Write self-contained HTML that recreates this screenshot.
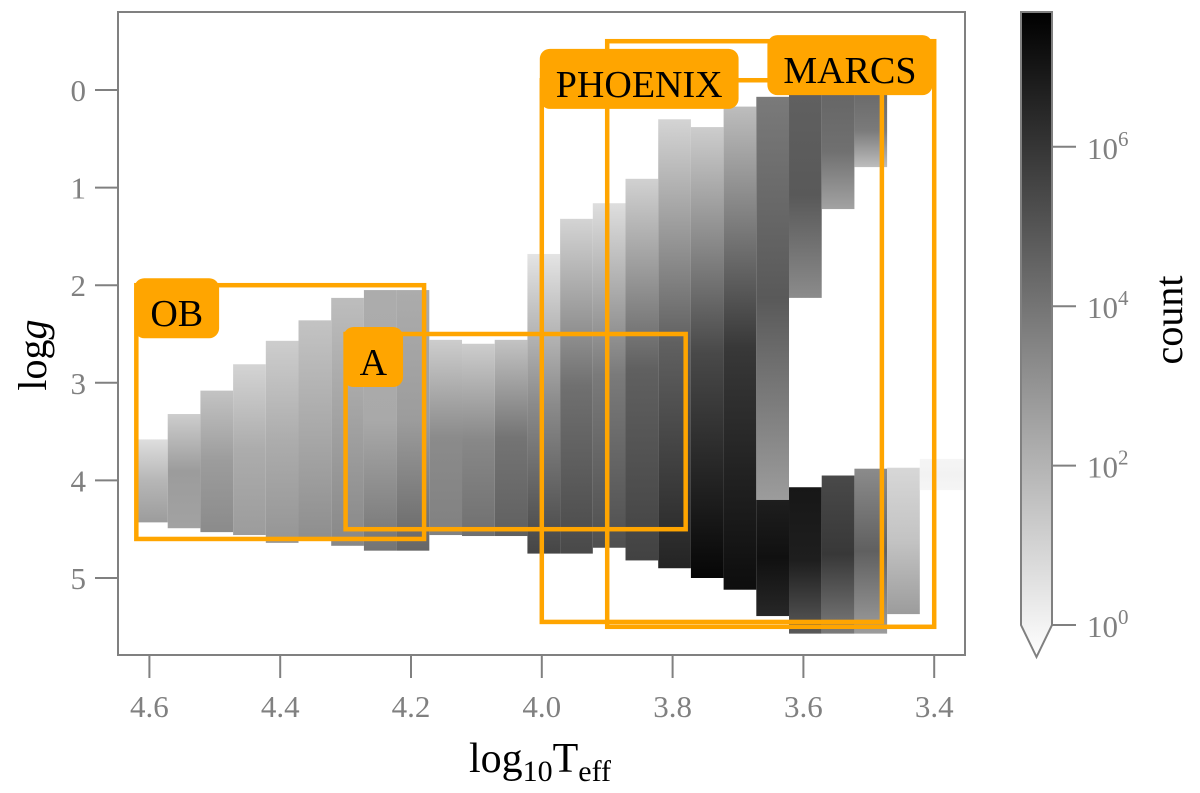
<!DOCTYPE html>
<html><head><meta charset="utf-8"><style>
html,body{margin:0;padding:0;background:#fff;}
svg text{font-family:"Liberation Serif",serif;}
</style></head><body>
<svg id="chart" width="1200" height="788" viewBox="0 0 1200 788" xmlns="http://www.w3.org/2000/svg">
<defs id="defs"></defs>
<g id="cells"></g>
<g id="boxes"></g>
<rect x="118" y="12" width="847" height="643" fill="none" stroke="#808080" stroke-width="2"/>
<g id="axes"></g>
<g id="cbar"></g>
<text transform="translate(46,355) rotate(-90)" text-anchor="middle" font-size="40">log<tspan font-style="italic">g</tspan></text>
<text x="540" y="772" text-anchor="middle" font-size="42">log<tspan font-size="30" dy="9">10</tspan><tspan dy="-9">T</tspan><tspan font-size="30" dy="9">eff</tspan></text>
<text transform="translate(1182,320) rotate(-90)" text-anchor="middle" font-size="40">count</text>
</svg>
<script>
// heatmap segments: column centre (log Teff), logg top, logg bottom, log10 count at top / middle / bottom
const segT   = [4.597,4.547,4.497,4.447,4.397,4.347,4.297,4.247,4.197,4.147,4.097,4.047,3.997,3.947,3.897,3.847,3.797,3.747,3.697,3.647,3.647,3.597,3.597,3.547,3.547,3.497,3.497,3.447,3.397,3.347];
const segTop = [3.58,3.32,3.08,2.81,2.57,2.36,2.13,2.05,2.05,2.56,2.60,2.56,1.68,1.32,1.16,0.91,0.30,0.38,0.17,0.07,4.20,0.03,4.07,0.03,3.95,0.03,3.88,3.87,3.78,3.78];
const segBot = [4.43,4.49,4.53,4.56,4.64,4.60,4.67,4.72,4.72,4.56,4.57,4.57,4.75,4.75,4.69,4.82,4.90,5.00,5.12,4.20,5.39,2.13,5.57,1.22,5.57,0.79,5.57,5.37,4.10,4.10];
const lcTop  = [1.0,1.5,1.8,1.3,1.5,1.8,2.0,2.5,2.5,1.5,1.5,1.8,0.8,1.3,1.0,1.4,1.3,1.5,2.0,4.0,6.8,4.8,7.0,4.6,5.5,4.5,3.5,1.2,0.3,0.3];
const lcMid  = [2.2,3.0,3.0,2.5,2.5,2.6,2.8,2.6,3.0,3.5,3.6,4.2,3.5,4.3,4.0,4.8,4.8,5.5,6.0,5.0,7.2,5.0,6.8,4.3,6.0,4.0,4.8,1.8,0.4,0.4];
const lcBot  = [3.0,2.8,3.5,3.0,3.2,3.4,3.6,4.2,4.6,3.8,4.3,4.8,5.6,5.5,5.3,5.7,6.6,7.5,7.3,3.0,6.5,3.5,5.0,2.8,4.0,2.0,3.0,3.0,0.3,0.3];
const binW = 0.05;
// model grid boxes
const boxNames = ["OB","A","PHOENIX","MARCS"];
const boxTmax  = [4.62,4.30,4.00,3.90];
const boxTmin  = [4.18,3.78,3.48,3.40];
const boxGmin  = [2.0,2.5,-0.1,-0.5];
const boxGmax  = [4.6,4.5,5.45,5.5];
// label anchors (data coordinates)
const labelT = [4.62,4.30,4.00,3.652];
const labelG = [2.0,2.5,-0.35,-0.49];
const xTicks = [4.6,4.4,4.2,4.0,3.8,3.6,3.4];
const yTicks = [0,1,2,3,4,5];
const cbTicks = [0,2,4,6];
const lcMax = 7.69;

const NS="http://www.w3.org/2000/svg";
function X(v){return 149.4+(4.6-v)*654;}
function Y(g){return 90+g*97.6;}
function CB(l){return 625-l*79.7;}
function gray(l){const c=Math.max(0,Math.min(255,Math.round(255*(1-l/lcMax))));return `rgb(${c},${c},${c})`;}
function mk(tag,attrs,parent){const e=document.createElementNS(NS,tag);for(const k in attrs)e.setAttribute(k,attrs[k]);parent.appendChild(e);return e;}

const defs=document.getElementById('defs');
const cells=document.getElementById('cells');
for(let i=0;i<segT.length;i++){
  const gid='g'+i;
  const lg=mk('linearGradient',{id:gid,x1:0,y1:0,x2:0,y2:1},defs);
  mk('stop',{offset:'0','stop-color':gray(lcTop[i])},lg);
  mk('stop',{offset:'0.5','stop-color':gray(lcMid[i])},lg);
  mk('stop',{offset:'1','stop-color':gray(lcBot[i])},lg);
  const x0=X(segT[i]+binW/2), x1=X(segT[i]-binW/2);
  const r=mk('rect',{x:x0,y:Y(segTop[i]),width:Math.min(x1,965)-x0,height:Y(segBot[i])-Y(segTop[i]),fill:`url(#${gid})`},cells);
  
  
}

const boxes=document.getElementById('boxes');
for(let i=0;i<boxNames.length;i++){
  const x0=X(boxTmax[i]),x1=X(boxTmin[i]),y0=Y(boxGmin[i]),y1=Y(boxGmax[i]);
  const r=mk('rect',{x:x0,y:y0,width:x1-x0,height:y1-y0,fill:'none',stroke:'#FFA500','stroke-width':4.5},boxes);
  
  
}
for(let i=0;i<boxNames.length;i++){
  const x0=X(labelT[i]),y0=Y(labelG[i]);
  const g=mk('g',{},boxes);
  
  
  const t=mk('text',{x:x0+14,y:y0+41,'font-size':38,fill:'#000'},g);
  t.textContent=boxNames[i];
  const w=t.getComputedTextLength();
  const bg=mk('rect',{x:x0-2,y:y0-7,width:w+32,height:60,rx:10,fill:'#FFA500'},g);
  g.insertBefore(bg,t);
}

const axes=document.getElementById('axes');
xTicks.forEach(v=>{
  const l=mk('line',{x1:X(v),x2:X(v),y1:655,y2:678,stroke:'#808080','stroke-width':2},axes);
  
  
  const t=mk('text',{x:X(v),y:717,'text-anchor':'middle','font-size':31,fill:'#808080'},axes);
  
  
  t.textContent=v.toFixed(1);
});
yTicks.forEach(v=>{
  const l=mk('line',{x1:95,x2:118,y1:Y(v),y2:Y(v),stroke:'#808080','stroke-width':2},axes);
  
  
  const t=mk('text',{x:86,y:Y(v)+11,'text-anchor':'end','font-size':31,fill:'#808080'},axes);
  
  
  t.textContent=String(v);
});

const cb=document.getElementById('cbar');
const cg=mk('linearGradient',{id:'cbg',x1:0,y1:1,x2:0,y2:0},defs);
mk('stop',{offset:'0','stop-color':'#fff'},cg);
mk('stop',{offset:'1','stop-color':'#000'},cg);
const bar=mk('path',{d:`M1021,12 H1052 V625 L1036.5,657 L1021,625 Z`,fill:'url(#cbg)',stroke:'#808080','stroke-width':2},cb);


cbTicks.forEach(v=>{
  const l=mk('line',{x1:1052,x2:1076,y1:CB(v),y2:CB(v),stroke:'#808080','stroke-width':2},cb);
  
  
  const t=mk('text',{x:1087,y:CB(v)+12,'font-size':31,fill:'#808080'},cb);
  
  
  t.innerHTML='10<tspan font-size="21" dy="-13">'+v+'</tspan>';
});
</script>
</body></html>
